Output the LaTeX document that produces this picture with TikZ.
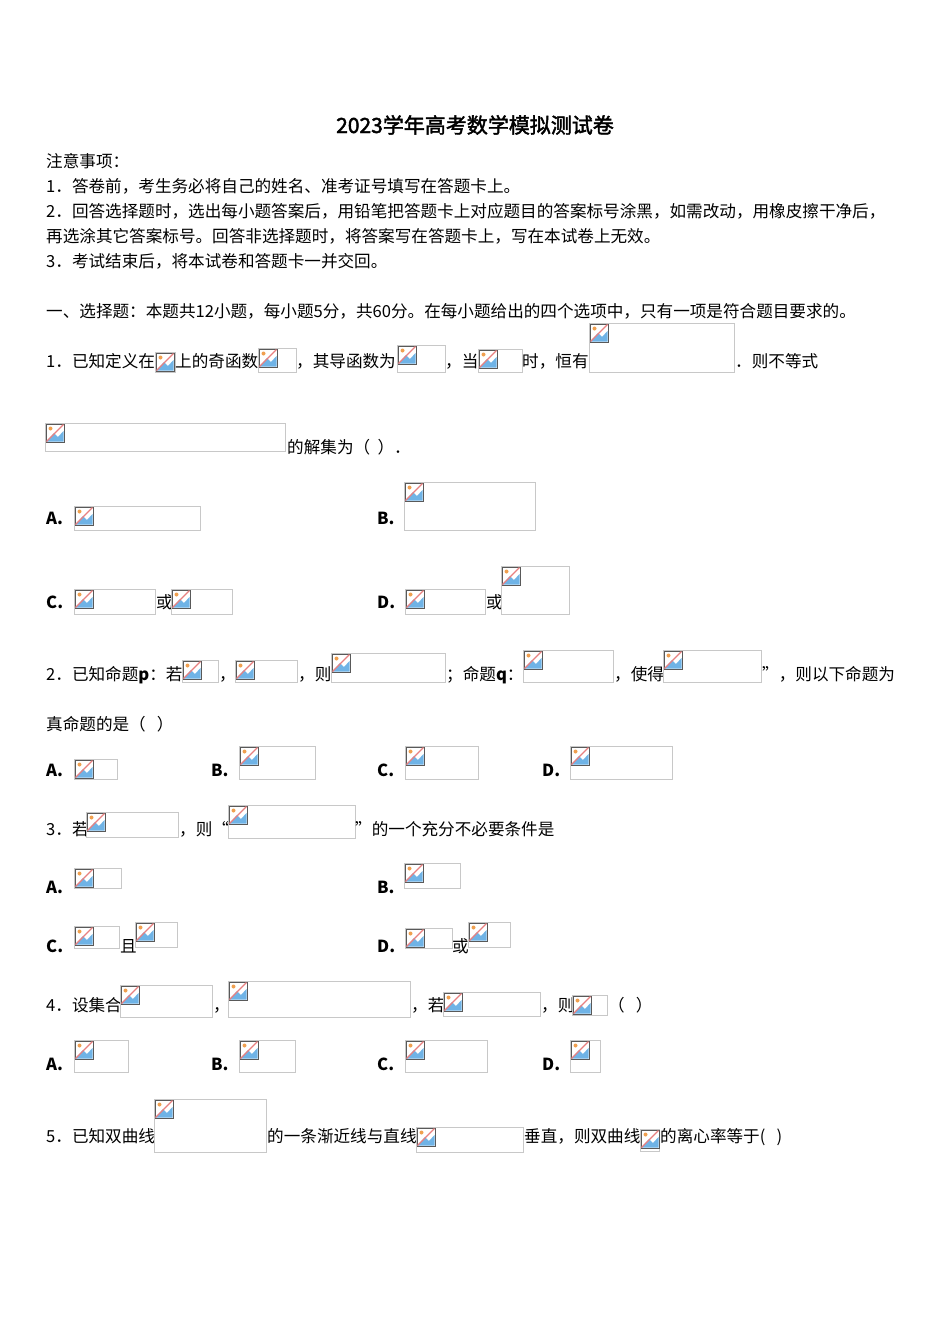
\documentclass[tikz,border=0pt]{standalone}
\usepackage{fontspec}
\setmainfont{Liberation Serif}
\newfontfamily\cjk{Noto Sans CJK SC}
\newfontfamily\cjkb{Noto Sans CJK SC}[FakeBold=2]
\definecolor{bordergray}{HTML}{C8C8C8}
\definecolor{skyb}{HTML}{6FB3E6}
\definecolor{sunor}{HTML}{F0A050}
\definecolor{slashr}{HTML}{E88080}
\newcommand\ph[4]{%
  \draw[bordergray,line width=0.8] (#1,#2) rectangle ++(#3,#4);
  \begin{scope}[shift={(#1+1,#2+1)}]
    \draw[gray!70!black,line width=0.8] (0,0) rectangle (18,18);
    \fill[skyb] (0.5,17.5) -- (8,9) -- (12,13) -- (17.5,7) -- (17.5,17.5) -- cycle;
    \fill[sunor] (4.5,4.5) circle (2);
    \draw[slashr,line width=1.2] (0.5,17.5) -- (17.5,0.5);
  \end{scope}}
\newcommand\tx[3]{\node[anchor=base west,inner sep=0] at (#1,#2) {\cjk #3};}
\begin{document}
\begin{tikzpicture}[x=1pt,y=-1pt,font=\fontsize{16.6}{19}\selectfont]
\useasboundingbox (0,0) rectangle (950,1344);
\fill[white] (0,0) rectangle (950,1344);
\node[anchor=base,inner sep=0,font=\fontsize{21}{24}\selectfont] at (475,133) {\cjkb 2023学年高考数学模拟测试卷};
\tx{46}{167}{注意事项：}
\tx{46}{192}{1．答卷前，考生务必将自己的姓名、准考证号填写在答题卡上。}
\tx{46}{217}{2．回答选择题时，选出每小题答案后，用铅笔把答题卡上对应题目的答案标号涂黑，如需改动，用橡皮擦干净后，}
\tx{46}{242}{再选涂其它答案标号。回答非选择题时，将答案写在答题卡上，写在本试卷上无效。}
\tx{46}{267}{3．考试结束后，将本试卷和答题卡一并交回。}
\tx{46}{317}{一、选择题：本题共12小题，每小题5分，共60分。在每小题给出的四个选项中，只有一项是符合题目要求的。}
% Q1
\tx{46}{367}{1．已知定义在}
\ph{155}{352}{20}{20}
\tx{175}{367}{上的奇函数}
\ph{258}{348}{38}{24}
\tx{296}{367}{，其导函数为}
\ph{397}{345}{48}{27}
\tx{445}{367}{，当}
\ph{478}{349}{44}{23}
\tx{522}{367}{时，恒有}
\ph{589}{323}{145}{49}
\tx{735}{367}{．则不等式}
\ph{45}{423}{240}{28}
\tx{287}{453}{的解集为（\ \ ）．}
\tx{46}{524}{\bfseries A.}
\ph{74}{506}{126}{24}
\tx{377}{524}{\bfseries B.}
\ph{404}{482}{131}{48}
\tx{46}{608}{\bfseries C.}
\ph{74}{589}{81}{25}
\tx{156}{608}{或}
\ph{171}{589}{61}{25}
\tx{377}{608}{\bfseries D.}
\ph{405}{589}{80}{25}
\tx{486}{608}{或}
\ph{501}{566}{68}{48}
% Q2
\tx{46}{680}{2．已知命题\textbf{\textit{p}}：若}
\ph{182}{660}{36}{22}
\tx{219}{680}{，}
\ph{235}{660}{62}{22}
\tx{298}{680}{，则}
\ph{331}{653}{114}{29}
\tx{446}{680}{；命题\textbf{\textit{q}}：}
\ph{523}{650}{90}{32}
\tx{614}{680}{，使得}
\ph{663}{650}{98}{32}
\tx{762}{680}{”，则以下命题为}
\tx{46}{730}{真命题的是（\ \ \ ）}
\tx{46}{776}{\bfseries A.}
\ph{74}{759}{43}{20}
\tx{211}{776}{\bfseries B.}
\ph{239}{746}{76}{33}
\tx{377}{776}{\bfseries C.}
\ph{405}{746}{73}{33}
\tx{542}{776}{\bfseries D.}
\ph{570}{746}{102}{33}
% Q3
\tx{46}{835}{3．若}
\ph{86}{812}{92}{25}
\tx{179}{835}{，则“}
\ph{228}{805}{127}{33}
\tx{355}{835}{”的一个充分不必要条件是}
\tx{46}{893}{\bfseries A.}
\ph{74}{868}{47}{20}
\tx{377}{893}{\bfseries B.}
\ph{404}{863}{56}{25}
\tx{46}{952}{\bfseries C.}
\ph{74}{926}{45}{22}
\tx{120}{952}{且}
\ph{135}{922}{42}{25}
\tx{377}{952}{\bfseries D.}
\ph{405}{928}{47}{20}
\tx{452}{952}{或}
\ph{468}{922}{42}{25}
% Q4
\tx{46}{1011}{4．设集合}
\ph{120}{985}{92}{32}
\tx{213}{1011}{，}
\ph{228}{981}{182}{36}
\tx{411}{1011}{，若}
\ph{443}{992}{97}{24}
\tx{541}{1011}{，则}
\ph{572}{995}{35}{20}
\tx{608}{1011}{（\ \ \ ）}
\tx{46}{1070}{\bfseries A.}
\ph{74}{1040}{54}{32}
\tx{211}{1070}{\bfseries B.}
\ph{239}{1040}{56}{32}
\tx{377}{1070}{\bfseries C.}
\ph{405}{1040}{82}{32}
\tx{542}{1070}{\bfseries D.}
\ph{570}{1040}{30}{32}
% Q5
\tx{46}{1142}{5．已知双曲线}
\ph{154}{1099}{112}{53}
\tx{267}{1142}{的一条渐近线与直线}
\ph{416}{1127}{107}{25}
\tx{524}{1142}{垂直，则双曲线}
\ph{640}{1129}{19}{22}
\tx{660}{1142}{的离心率等于(\ \ \ )}
\end{tikzpicture}
\end{document}
